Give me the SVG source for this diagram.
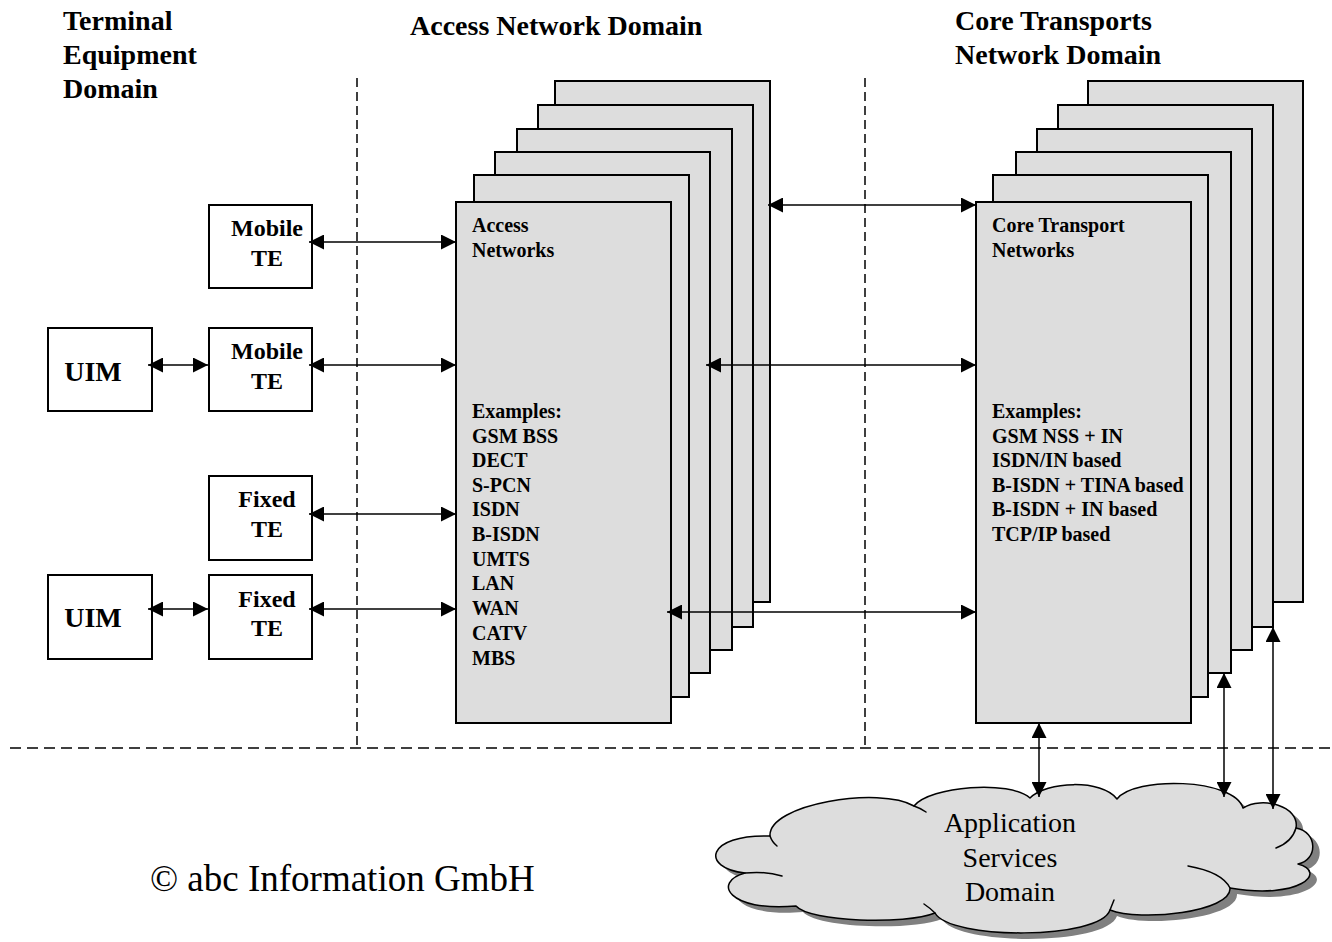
<svg xmlns="http://www.w3.org/2000/svg" width="1332" height="942" viewBox="0 0 1332 942">
  <style>
    .bg { fill: #ffffff; }
    .box { fill: #ffffff; stroke: #000; stroke-width: 2; }
    .sheet { fill: #dddddd; stroke: #000; stroke-width: 2; }
    .border { stroke: #000; stroke-width: 1.5; fill: none; }
    .vdash { stroke-dasharray: 9 5; }
    .hdash { stroke-dasharray: 11 6; }
    .conn { stroke: #000; stroke-width: 1.5; fill: none; marker-start: url(#ah); marker-end: url(#ah); }
    .hdr { font-family: "Liberation Serif", "Times New Roman", serif; font-weight: bold; font-size: 28px; fill: #000; }
    .lbl { font-family: "Liberation Serif", "Times New Roman", serif; font-weight: bold; font-size: 24px; fill: #000; text-anchor: middle; }
    .uim { font-family: "Liberation Serif", "Times New Roman", serif; font-weight: bold; font-size: 28px; fill: #000; text-anchor: middle; }
    .list { font-family: "Liberation Serif", "Times New Roman", serif; font-weight: bold; font-size: 20px; fill: #000; }
    .cloud { fill: #dddddd; stroke: #000; stroke-width: 1.5; stroke-linejoin: round; }
    .shadow { fill: #808080; }
    .curl { fill: none; stroke: #000; stroke-width: 1.5; stroke-linecap: round; }
    .ctext { font-family: "Liberation Serif", "Times New Roman", serif; font-size: 28px; fill: #000; text-anchor: middle; }
    .copy { font-family: "Liberation Serif", "Times New Roman", serif; font-size: 37px; fill: #000; }
  </style>
  <defs>
    <marker id="ah" markerWidth="15" markerHeight="15" refX="15" refY="7.5" orient="auto-start-reverse" markerUnits="userSpaceOnUse">
      <path d="M0,0 L15,7.5 L0,15 z" fill="#000"/>
    </marker>
    <path id="cloudShape" d="M745,873 C700,868 706,834 770,836 C768,804 880,786 914,806 C930,786 1010,780 1030,798 C1046,781 1102,779 1117,799 C1134,776 1234,778 1243,808 C1262,796 1300,806 1296,828 C1318,832 1318,860 1298,864 C1328,872 1300,900 1230,888 C1232,912 1140,922 1110,910 C1100,940 950,940 935,913 C905,925 810,922 796,906 C728,912 712,882 745,873 Z"/>
  </defs>

  <rect class="bg" x="0" y="0" width="1332" height="942"/>

  <!-- domain headings -->
  <g id="headings">
    <text class="hdr" x="63" y="30">Terminal</text>
    <text class="hdr" x="63" y="64">Equipment</text>
    <text class="hdr" x="63" y="98">Domain</text>
    <text class="hdr" x="410" y="35">Access Network Domain</text>
    <text class="hdr" x="955" y="30">Core Transports</text>
    <text class="hdr" x="955" y="64">Network Domain</text>
  </g>

  <!-- dashed domain borders -->
  <g id="domain-borders">
    <line class="border vdash" x1="357" y1="78" x2="357" y2="748"/>
    <line class="border vdash" x1="865" y1="78" x2="865" y2="748"/>
    <line class="border hdash" x1="10" y1="748" x2="1332" y2="748"/>
  </g>

  <!-- stack of access networks, back to front -->
  <g id="access-networks">
    <rect class="sheet" x="555" y="81" width="215" height="521"/>
    <rect class="sheet" x="538" y="105" width="215" height="522"/>
    <rect class="sheet" x="517" y="129" width="215" height="521"/>
    <rect class="sheet" x="495" y="152" width="215" height="521"/>
    <rect class="sheet" x="474" y="175" width="215" height="522"/>
    <rect class="sheet" x="456" y="202" width="215" height="521"/>
    <text class="list" x="472" y="232">Access</text>
    <text class="list" x="472" y="257">Networks</text>
    <text class="list" x="472" y="418">Examples:</text>
    <text class="list" x="472" y="443">GSM BSS</text>
    <text class="list" x="472" y="467">DECT</text>
    <text class="list" x="472" y="492">S-PCN</text>
    <text class="list" x="472" y="516">ISDN</text>
    <text class="list" x="472" y="541">B-ISDN</text>
    <text class="list" x="472" y="566">UMTS</text>
    <text class="list" x="472" y="590">LAN</text>
    <text class="list" x="472" y="615">WAN</text>
    <text class="list" x="472" y="640">CATV</text>
    <text class="list" x="472" y="665">MBS</text>
  </g>

  <!-- stack of core transport networks, back to front -->
  <g id="core-networks">
    <rect class="sheet" x="1088" y="81" width="215" height="521"/>
    <rect class="sheet" x="1058" y="105" width="215" height="522"/>
    <rect class="sheet" x="1037" y="129" width="215" height="521"/>
    <rect class="sheet" x="1016" y="152" width="215" height="521"/>
    <rect class="sheet" x="993" y="175" width="215" height="522"/>
    <rect class="sheet" x="976" y="202" width="215" height="521"/>
    <text class="list" x="992" y="232">Core Transport</text>
    <text class="list" x="992" y="257">Networks</text>
    <text class="list" x="992" y="418">Examples:</text>
    <text class="list" x="992" y="443">GSM NSS + IN</text>
    <text class="list" x="992" y="467">ISDN/IN based</text>
    <text class="list" x="992" y="492">B-ISDN + TINA based</text>
    <text class="list" x="992" y="516">B-ISDN + IN based</text>
    <text class="list" x="992" y="541">TCP/IP based</text>
  </g>

  <!-- terminal equipment -->
  <g id="mobile-te-1">
    <rect class="box" x="209" y="205" width="103" height="83"/>
    <text class="lbl" x="267" y="236">Mobile</text>
    <text class="lbl" x="267" y="266">TE</text>
  </g>
  <g id="uim-1">
    <rect class="box" x="48" y="328" width="104" height="83"/>
    <text class="uim" x="93" y="381">UIM</text>
  </g>
  <g id="mobile-te-2">
    <rect class="box" x="209" y="328" width="103" height="83"/>
    <text class="lbl" x="267" y="359">Mobile</text>
    <text class="lbl" x="267" y="389">TE</text>
  </g>
  <g id="fixed-te-1">
    <rect class="box" x="209" y="476" width="103" height="84"/>
    <text class="lbl" x="267" y="507">Fixed</text>
    <text class="lbl" x="267" y="537">TE</text>
  </g>
  <g id="uim-2">
    <rect class="box" x="48" y="575" width="104" height="84"/>
    <text class="uim" x="93" y="627">UIM</text>
  </g>
  <g id="fixed-te-2">
    <rect class="box" x="209" y="575" width="103" height="84"/>
    <text class="lbl" x="267" y="607">Fixed</text>
    <text class="lbl" x="267" y="636">TE</text>
  </g>

  <!-- application services cloud -->
  <g id="application-services">
    <use href="#cloudShape" class="shadow" transform="translate(7,6)"/>
    <use href="#cloudShape" class="cloud"/>
    <path class="curl" d="M745,873 Q766,871 782,876"/>
    <path class="curl" d="M770,836 Q772,842 777,846"/>
    <path class="curl" d="M914,806 Q920,808 926,812"/>
    <path class="curl" d="M1296,828 Q1292,842 1276,848"/>
    <path class="curl" d="M1230,888 Q1222,872 1188,866"/>
    <path class="curl" d="M1110,910 Q1112,905 1114,900"/>
    <path class="curl" d="M935,913 Q930,908 924,904"/>
    <text class="ctext" x="1010" y="832">Application</text>
    <text class="ctext" x="1010" y="867">Services</text>
    <text class="ctext" x="1010" y="901">Domain</text>
  </g>

  <!-- connectors -->
  <g id="connectors">
    <line class="conn" x1="309" y1="242" x2="456" y2="242"/>
    <line class="conn" x1="148" y1="365" x2="208" y2="365"/>
    <line class="conn" x1="309" y1="365" x2="456" y2="365"/>
    <line class="conn" x1="309" y1="514" x2="456" y2="514"/>
    <line class="conn" x1="148" y1="609" x2="208" y2="609"/>
    <line class="conn" x1="309" y1="609" x2="456" y2="609"/>
    <line class="conn" x1="768" y1="205" x2="976" y2="205"/>
    <line class="conn" x1="706" y1="365" x2="976" y2="365"/>
    <line class="conn" x1="667" y1="612" x2="976" y2="612"/>
    <line class="conn" x1="1039" y1="723" x2="1039" y2="797"/>
    <line class="conn" x1="1224" y1="673" x2="1224" y2="797"/>
    <line class="conn" x1="1273" y1="627" x2="1273" y2="809"/>
  </g>

  <text class="copy" x="150" y="891">© abc Information GmbH</text>
</svg>
